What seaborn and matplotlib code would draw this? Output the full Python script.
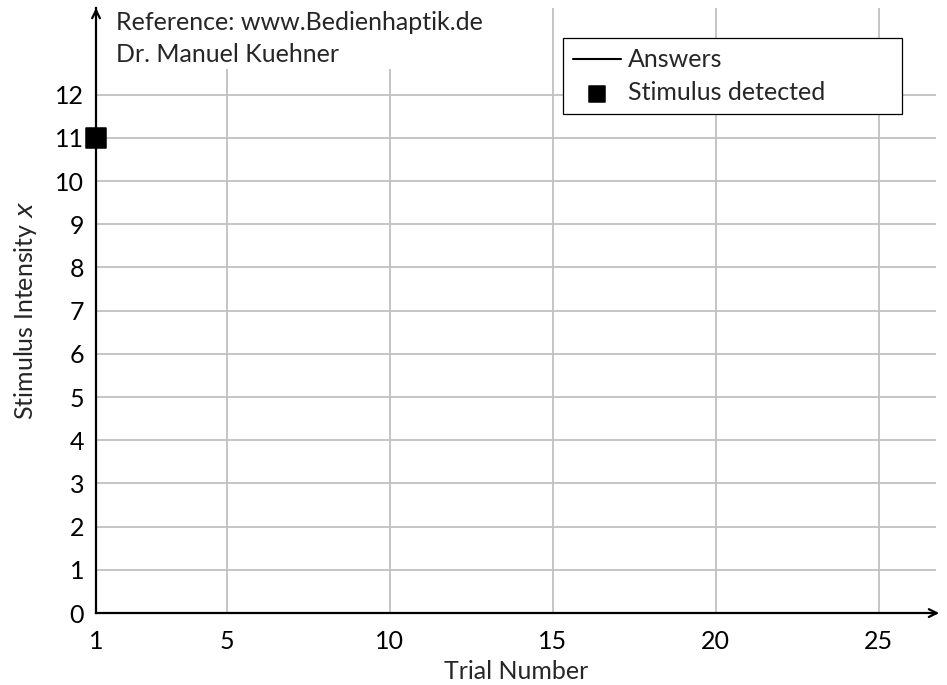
import numpy as np
import pandas as pd
import matplotlib
matplotlib.use("Agg")
import matplotlib.pyplot as plt
import seaborn as sns

# data
trial = [1]
intensity = [11]
detected_trial = [1]
detected_intensity = [11]
x_ticks = [1, 5, 10, 15, 20, 25]
y_ticks = list(range(0, 13))

sns.set_style("white")
plt.rcParams['font.family'] = ['Lato', 'DejaVu Sans']
fs = 18

fig = plt.figure(figsize=(9.47, 6.85), dpi=100)
ax = fig.add_axes([0.1014, 0.105, 0.887, 0.883])

answers = pd.DataFrame({'Trial': trial, 'Intensity': intensity})
hits = pd.DataFrame({'Trial': detected_trial, 'Intensity': detected_intensity})

sns.lineplot(data=answers, x='Trial', y='Intensity', color='black', lw=1.5,
             ax=ax, label='Answers', zorder=3)
sns.scatterplot(data=hits, x='Trial', y='Intensity', color='black', marker='s',
                s=190, edgecolor='black', ax=ax, label='Stimulus detected',
                zorder=5, clip_on=False)

ax.set_xlim(1, 26.75)
ax.set_ylim(0, 14)
ax.set_xticks(x_ticks)
ax.set_yticks(y_ticks)
ax.grid(True, color='#c0c0c0', lw=1.3)
ax.set_axisbelow(True)

for s in ['top', 'right']:
    ax.spines[s].set_visible(False)
for s in ['left', 'bottom']:
    ax.spines[s].set_linewidth(1.6)
    ax.spines[s].set_color('black')

ax.tick_params(direction='inout', length=9, width=1.3, colors='black',
               labelsize=fs)
ax.tick_params(axis='x', pad=8)
ax.tick_params(axis='y', pad=4)

# axis arrows
ax.annotate('', xy=(1.007, 0), xytext=(0.99, 0), xycoords='axes fraction',
            arrowprops=dict(arrowstyle='->', color='black', lw=1.6,
                            mutation_scale=14))
ax.annotate('', xy=(0, 1.005), xytext=(0, 0.99), xycoords='axes fraction',
            arrowprops=dict(arrowstyle='->', color='black', lw=1.6,
                            mutation_scale=14))

ax.set_xlabel('Trial Number', fontsize=fs, labelpad=5)
ax.set_ylabel(r'Stimulus Intensity $x$', fontsize=fs, labelpad=12)

ax.text(0.024, 0.995, 'Reference: www.Bedienhaptik.de\nDr. Manuel Kuehner',
        transform=ax.transAxes, ha='left', va='top', fontsize=fs,
        linespacing=1.45,
        bbox=dict(facecolor='white', edgecolor='none', pad=2))

leg = ax.legend(loc='upper left', bbox_to_anchor=(0.556, 0.5, 0.4036, 0.450),
                mode='expand', fontsize=fs, frameon=True, fancybox=False,
                framealpha=1, edgecolor='black', handlelength=1.9,
                handletextpad=0.3, borderpad=0.4, labelspacing=0.4,
                markerscale=0.8, borderaxespad=0)
leg.get_frame().set_linewidth(0.9)

fig.savefig('out.png', dpi=100)
